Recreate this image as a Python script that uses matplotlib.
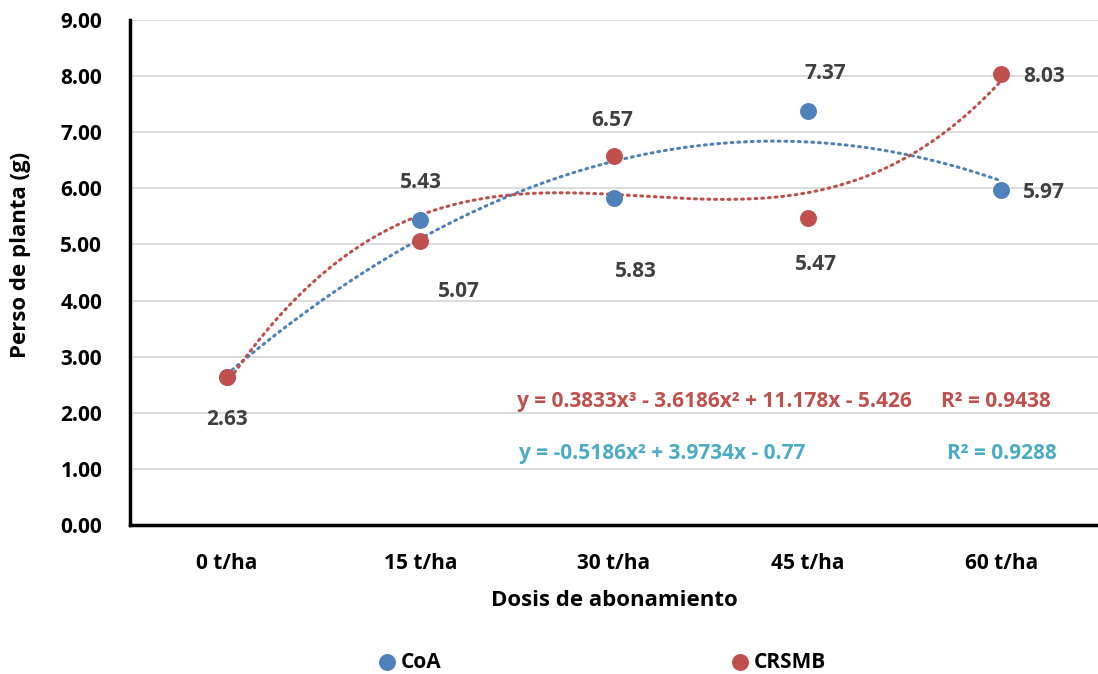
import numpy as np
import matplotlib
matplotlib.use("Agg")
import matplotlib.pyplot as plt

plt.rcParams['font.family'] = ['Open Sans', 'DejaVu Sans']
plt.rcParams['font.weight'] = 'bold'

categories = ["0 t/ha", "15 t/ha", "30 t/ha", "45 t/ha", "60 t/ha"]
coa = [2.63, 5.43, 5.83, 7.37, 5.97]
crsmb = [2.63, 5.07, 6.57, 5.47, 8.03]

blue = "#4F81BD"
red = "#C0504D"
teal = "#4BACC6"
label_col = "#404040"
fs = 15

x = np.arange(1, len(categories) + 1)

fig = plt.figure(figsize=(10.98, 6.74), dpi=100)
ax = fig.add_axes([130 / 1098, 1 - 525 / 674, 968 / 1098, 505 / 674])

# trendlines (Excel style polynomial fits)
xs = np.linspace(1, 5, 200)
p_coa = np.polyfit(x, coa, 2)
p_crs = np.polyfit(x, crsmb, 3)
ax.plot(xs, np.polyval(p_coa, xs), color=blue, lw=2.2, ls=(0, (0.6, 1.6)), dash_capstyle='round', zorder=2)
ax.plot(xs, np.polyval(p_crs, xs), color=red, lw=2.2, ls=(0, (0.6, 1.6)), dash_capstyle='round', zorder=2)

sc1 = ax.scatter(x, coa, s=125, color=blue, zorder=3, label="CoA")
sc2 = ax.scatter(x, crsmb, s=125, color=red, zorder=3, label="CRSMB")

# data labels, offsets in pixels
coa_off = [(0, -42), (0, 38), (22, -74), (18, 38), (43, -2)]
crs_off = [(0, -42), (38, -51), (-2, 36), (8, -46), (43, -2)]
for i in range(len(x)):
    if i > 0:
        ax.annotate(f"{coa[i]:.2f}", (x[i], coa[i]), xytext=coa_off[i], textcoords='offset pixels',
                    ha='center', va='center', fontsize=fs, fontweight='bold', color=label_col)
    ax.annotate(f"{crsmb[i]:.2f}", (x[i], crsmb[i]), xytext=crs_off[i], textcoords='offset pixels',
                ha='center', va='center', fontsize=fs, fontweight='bold', color=label_col)

# equations
def r2(y, p):
    y = np.array(y)
    res = y - np.polyval(p, x)
    return 1 - (res ** 2).sum() / ((y - y.mean()) ** 2).sum()

ax.text(2.50, 2.20, "y = 0.3833x³ - 3.6186x² + 11.178x - 5.426", color=red,
        fontsize=fs, fontweight='bold', va='center', ha='left')
ax.text(4.69, 2.20, f"R² = {r2(crsmb, p_crs):.4f}", color=red, fontsize=fs, fontweight='bold', va='center')
ax.text(2.51, 1.27, "y = -0.5186x² + 3.9734x - 0.77", color=teal,
        fontsize=fs, fontweight='bold', va='center', ha='left')
ax.text(4.72, 1.27, f"R² = {r2(coa, p_coa):.4f}", color=teal, fontsize=fs, fontweight='bold', va='center')

ax.set_xlim(0.5, 5.5)
ax.set_ylim(0, 9)
ax.set_yticks(np.arange(0, 10, 1))
ax.set_yticklabels([f"{v:.2f}" for v in np.arange(0, 10, 1)])
ax.set_xticks(x)
ax.set_xticklabels(categories)
ax.tick_params(length=0, labelsize=fs, pad=20)
for lab in ax.get_xticklabels() + ax.get_yticklabels():
    lab.set_fontweight('bold')
ax.tick_params(axis='x', pad=20)
ax.grid(axis='y', color='#D9D9D9', lw=1.3)
ax.set_axisbelow(True)
for s in ['top', 'right']:
    ax.spines[s].set_visible(False)
for s in ['left', 'bottom']:
    ax.spines[s].set_linewidth(2.5)
    ax.spines[s].set_color('black')

ax.set_ylabel("Perso de planta (g)", fontsize=16, fontweight='bold', va='center')
ax.yaxis.set_label_coords((21 - 130) / 968, 0.535)
ax.set_xlabel("Dosis de abonamiento", fontsize=16, fontweight='bold', labelpad=12)

leg1 = fig.legend(handles=[sc1], loc='center left', bbox_to_anchor=(377 / 1098, 1 - 662 / 674), frameon=False,
                  fontsize=fs, handlelength=1.0, handletextpad=0.15, borderpad=0, borderaxespad=0)
leg2 = fig.legend(handles=[sc2], loc='center left', bbox_to_anchor=(730 / 1098, 1 - 662 / 674), frameon=False,
                  fontsize=fs, handlelength=1.0, handletextpad=0.15, borderpad=0, borderaxespad=0)

fig.savefig("out.png", dpi=100)
